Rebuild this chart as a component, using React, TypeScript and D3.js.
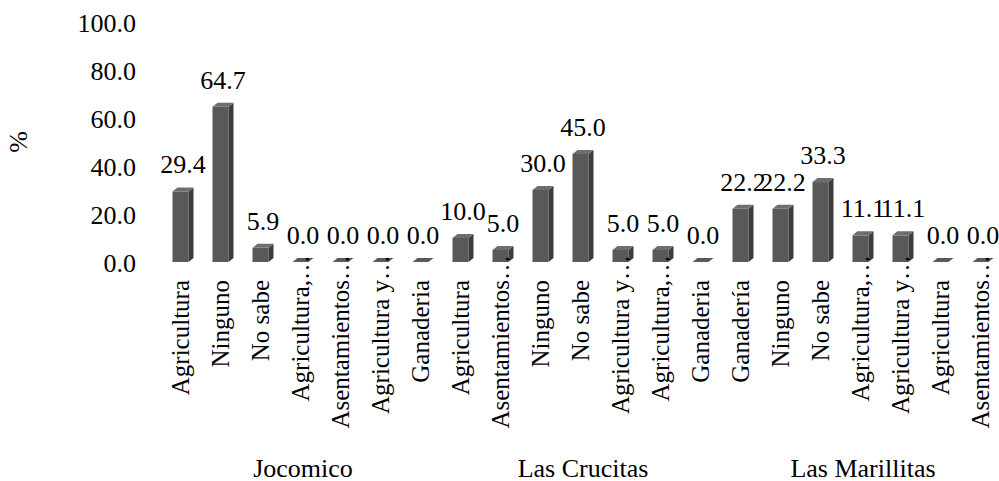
import React from "react";
import * as d3 from "d3";

const groups = ["Jocomico", "Las Crucitas", "Las Marillitas"];

const categories = [
  "Agricultura", "Ninguno", "No sabe", "Agricultura,…", "Asentamientos…", "Agricultura y…", "Ganaderia",
  "Agricultura", "Asentamientos…", "Ninguno", "No sabe", "Agricultura y…", "Agricultura,…", "Ganaderia",
  "Ganadería", "Ninguno", "No sabe", "Agricultura,…", "Agricultura y…", "Agricultura", "Asentamientos…",
];

const groupOf = [0, 0, 0, 0, 0, 0, 0, 1, 1, 1, 1, 1, 1, 1, 2, 2, 2, 2, 2, 2, 2];

const values = [
  29.4, 64.7, 5.9, 0.0, 0.0, 0.0, 0.0,
  10.0, 5.0, 30.0, 45.0, 5.0, 5.0, 0.0,
  22.2, 22.2, 33.3, 11.1, 11.1, 0.0, 0.0,
];

const yTicks = [0, 20, 40, 60, 80, 100];

const W = 999;
const H = 481;
const FONT = "Liberation Serif";
const FS = 26;

export default function App() {
  const ids = values.map((_, i) => String(i));
  const x = d3.scaleBand<string>().domain(ids).range([163, 1003]).paddingInner(0.6).paddingOuter(0.3);
  const y = d3.scaleLinear().domain([0, 100]).range([262, 22]);
  const dx = 5;
  const dy = 4;
  const bw = 16;
  const centers = ids.map((id) => (x(id) as number) + x.bandwidth() / 2);

  return (
    <svg width={W} height={H} style={{ position: "absolute", left: 0, top: 0 }}>
      {/* y tick labels */}
      {yTicks.map((t) => (
        <text key={t} x={136} y={y(t) + 10} textAnchor="end" fontSize={FS} fontFamily={FONT}>
          {t.toFixed(1)}
        </text>
      ))}
      <text transform="translate(27,142) rotate(-90)" textAnchor="middle" fontSize={FS} fontFamily={FONT}>
        %
      </text>

      {/* bars */}
      {values.map((v, i) => {
        const cx = centers[i] - dx / 2;
        const x0 = cx - bw / 2;
        const x1 = cx + bw / 2;
        const yb = y(0);
        const yt = y(v);
        return (
          <g key={i}>
            {v > 0 && <rect x={x0} y={yt} width={bw} height={yb - yt} fill="#595959" />}
            {v > 0 && (
              <path d={`M${x1},${yt} L${x1 + dx},${yt - dy} L${x1 + dx},${yb - dy} L${x1},${yb} Z`} fill="#3d3d3d" />
            )}
            <path
              d={`M${x0},${yt} L${x1},${yt} L${x1 + dx},${yt - dy} L${x0 + dx},${yt - dy} Z`}
              fill={v > 0 ? "#6e6e6e" : "#5a5a5a"}
            />
            <text x={centers[i]} y={yt - 18} textAnchor="middle" fontSize={FS} fontFamily={FONT}>
              {v.toFixed(1)}
            </text>
          </g>
        );
      })}

      {/* category labels */}
      {categories.map((c, i) => {
        const trunc = c.endsWith("…");
        const base = trunc ? c.slice(0, -1) : c;
        return (
          <g key={i} transform={`translate(${centers[i] + 6},280) rotate(-90)`}>
            <text textAnchor="end" fontSize={FS - 1} fontFamily={FONT}>
              {base}
            </text>
            {trunc && (
              <text textAnchor="start" fontSize={FS - 1} fontFamily={FONT}>
                …
              </text>
            )}
          </g>
        );
      })}

      {/* group labels */}
      {groups.map((g, gi) => {
        const idx = groupOf.map((gg, i) => (gg === gi ? i : -1)).filter((i) => i >= 0);
        const mid = (centers[idx[0]] + centers[idx[idx.length - 1]]) / 2;
        return (
          <text key={g} x={mid} y={477} textAnchor="middle" fontSize={FS} fontFamily={FONT}>
            {g}
          </text>
        );
      })}
    </svg>
  );
}
